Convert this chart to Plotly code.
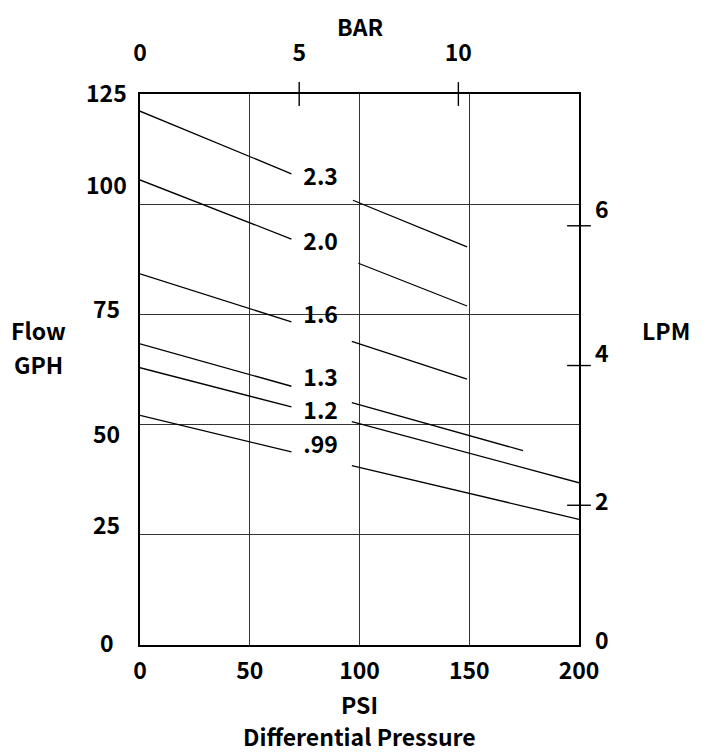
import plotly.graph_objects as go

# ---------------- data ----------------
series_names = ["2.3", "2.0", "1.6", "1.3", "1.2", ".99"]

# left segment (PSI, GPH)
left_x = [[0, 69], [0, 69], [0, 69], [0, 69], [0, 69], [0, 69]]
left_y = [[121.1, 106.9], [105.5, 92.1], [84.2, 73.3], [68.3, 58.7], [62.9, 54.0], [52.1, 43.8]]

# right segment (PSI, GPH)
right_x = [[97, 149], [99.5, 149], [96.5, 149], [96.5, 174.5], [96.5, 200], [96.5, 200]]
right_y = [[100.9, 90.3], [86.6, 76.9], [68.9, 60.3], [55.0, 44.1], [50.7, 36.8], [40.7, 28.5]]

# series label placement (PSI, GPH)
label_x = [82.3, 82.3, 82.3, 82.3, 82.3, 82.3]
label_y = [105.7, 91.0, 74.3, 60.0, 52.6, 44.9]

psi_ticks = [0, 50, 100, 150, 200]
gph_ticks = [0, 25, 50, 75, 100, 125]
bar_ticks = [0, 5, 10]
lpm_ticks = [0, 2, 4, 6]

PSI_PER_BAR = 14.5038
GPH_TO_LPM = 3.78541 / 60.0

# ---------------- style ----------------
OFF = 8                      # page body margin of the html page
W, H = 701, 745
ML, MR, MT, MB = 132, 130, 86, 108
PW, PH = W - ML - MR, H - MT - MB
FONT = dict(family="Noto Sans CJK SC, Roboto, sans-serif",
            size=23, color="black", weight="bold")
GRID = "#333333"

# pixel offsets of the printed tick labels relative to their gridline/tick (up = +)
gph_label_shift = [3, 10.5, -8, 6.5, 20, 2]
lpm_label_shift = [6, 5, 14, 18]


def px_x(px):
    return (px - OFF - ML) / PW


def px_y(py):
    return (MT + PH - (py - OFF)) / PH


fig = go.Figure()

for i, name in enumerate(series_names):
    xs = left_x[i] + [None] + right_x[i]
    ys = left_y[i] + [None] + right_y[i]
    fig.add_trace(go.Scatter(x=xs, y=ys, mode="lines", name=name,
                             line=dict(color="black", width=1.3),
                             connectgaps=False, showlegend=False, hoverinfo="skip"))

fig.add_trace(go.Scatter(x=label_x, y=label_y, mode="text", text=series_names,
                         textfont=FONT, textposition="middle center",
                         showlegend=False, hoverinfo="skip"))

# BAR tick marks (top axis) crossing the frame
bar_x = [b for b in bar_ticks if b > 0]
fig.add_trace(go.Scatter(x=bar_x, y=[125] * len(bar_x), xaxis="x2", yaxis="y",
                         mode="markers", cliponaxis=False, showlegend=False, hoverinfo="skip",
                         marker=dict(symbol="line-ns", size=17,
                                     line=dict(color="black", width=1.4))))

# LPM tick marks (right axis) crossing the frame
lpm_y = [v for v in lpm_ticks if v > 0]
fig.add_trace(go.Scatter(x=[200] * len(lpm_y), y=lpm_y, xaxis="x", yaxis="y2",
                         mode="markers", cliponaxis=False, showlegend=False, hoverinfo="skip",
                         marker=dict(symbol="line-ew", size=17,
                                     line=dict(color="black", width=1.4))))

annotations = []
# left GPH tick labels
for v, s in zip(gph_ticks, gph_label_shift):
    annotations.append(dict(x=px_x(106.5), xref="paper", y=v, yref="y", yshift=s,
                            text=str(v), showarrow=False, font=FONT,
                            xanchor="center", yanchor="middle"))
# right LPM tick labels
for v, s in zip(lpm_ticks, lpm_label_shift):
    annotations.append(dict(x=px_x(602), xref="paper", y=v, yref="y2", yshift=s,
                            text=str(v), showarrow=False, font=FONT,
                            xanchor="center", yanchor="middle"))

annotations += [
    dict(x=0.5, xref="paper", y=px_y(26), yref="paper", text="BAR", showarrow=False,
         font=FONT, xanchor="center", yanchor="middle"),
    dict(x=px_x(38), xref="paper", y=px_y(330), yref="paper", text="Flow",
         showarrow=False, font=FONT, xanchor="center", yanchor="middle"),
    dict(x=px_x(38), xref="paper", y=px_y(364), yref="paper", text="GPH",
         showarrow=False, font=FONT, xanchor="center", yanchor="middle"),
    dict(x=px_x(666), xref="paper", y=px_y(330), yref="paper", text="LPM",
         showarrow=False, font=FONT, xanchor="center", yanchor="middle"),
    dict(x=0.5, xref="paper", y=px_y(704), yref="paper", text="PSI",
         showarrow=False, font=FONT, xanchor="center", yanchor="middle"),
    dict(x=0.5, xref="paper", y=px_y(736), yref="paper", text="Differential Pressure",
         showarrow=False, font=FONT, xanchor="center", yanchor="middle"),
]

fig.update_layout(
    width=W, height=H,
    margin=dict(l=ML, r=MR, t=MT, b=MB, pad=0),
    paper_bgcolor="white", plot_bgcolor="white",
    showlegend=False,
    font=FONT,
    xaxis=dict(range=[0, 200], tickvals=psi_ticks, ticktext=[str(t) for t in psi_ticks],
               showgrid=True, gridcolor=GRID, gridwidth=1, zeroline=False,
               showline=True, linecolor="black", linewidth=1.6, mirror=True,
               ticks="", tickfont=FONT, ticklabelstandoff=5),
    yaxis=dict(range=[0, 125], tickvals=gph_ticks, showticklabels=False,
               showgrid=True, gridcolor=GRID, gridwidth=1, zeroline=False,
               showline=True, linecolor="black", linewidth=1.6, mirror=True, ticks=""),
    xaxis2=dict(range=[0, 200 / PSI_PER_BAR], overlaying="x", side="top",
                tickvals=bar_ticks, ticktext=[str(t) for t in bar_ticks],
                showgrid=False, zeroline=False, showline=False, ticks="",
                tickfont=FONT, ticklabelstandoff=27),
    yaxis2=dict(range=[0, 125 * GPH_TO_LPM], overlaying="y", side="right",
                tickvals=lpm_ticks, showticklabels=False,
                showgrid=False, zeroline=False, showline=False, ticks=""),
    annotations=annotations,
)

fig.write_html("out.html")
